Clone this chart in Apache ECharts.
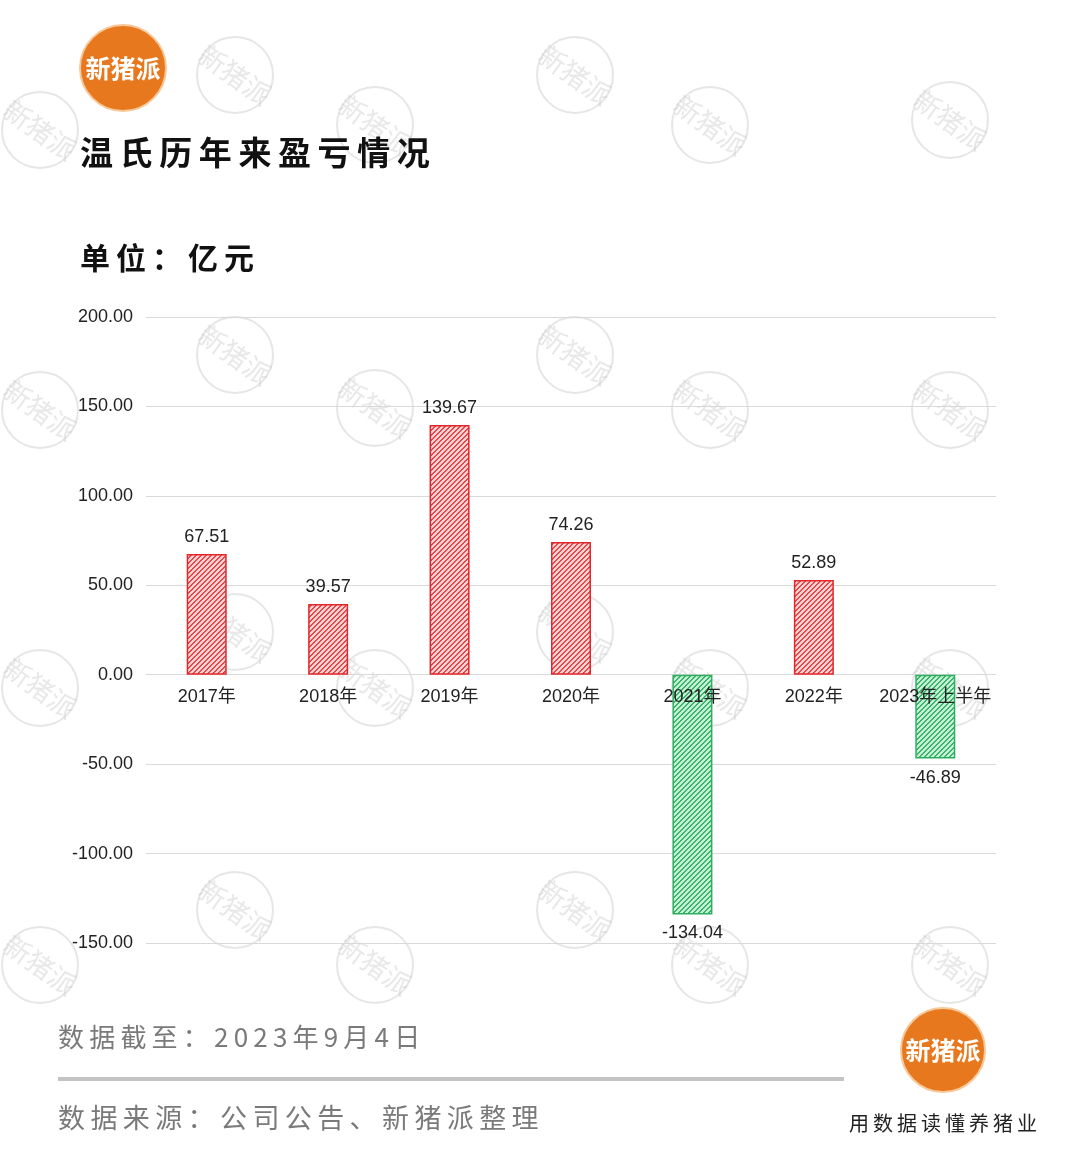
<!DOCTYPE html>
<html>
<head>
<meta charset="utf-8">
<script src="https://cdn.jsdelivr.net/npm/echarts@6/dist/echarts.min.js"></script>
<style>
html,body{margin:0;padding:0;background:#fff;}
#c{width:1080px;height:1171px;}
</style>
</head>
<body>
<div id="c"></div>
<script>
const categories = ['2017年','2018年','2019年','2020年','2021年','2022年','2023年上半年'];
const profitValues = [67.51, 39.57, 139.67, 74.26, -134.04, 52.89, -46.89];
const yTicks = {min: -150, max: 200, interval: 50};
const titleText = '温氏历年来盈亏情况';
const unitText = '单位：亿元';
const dateText = '数据截至：2023年9月4日';
const sourceText = '数据来源：公司公告、新猪派整理';
const sloganText = '用数据读懂养猪业';
const brandText = '新猪派';

function spaced(s){ return s.split('').join('\u2009'); }

function makePattern(bg, fg){
  const cv = document.createElement('canvas');
  const n = 10;
  cv.width = n; cv.height = n;
  const ctx = cv.getContext('2d');
  const img = ctx.createImageData(n, n);
  const p = (h)=>[parseInt(h.substr(1,2),16),parseInt(h.substr(3,2),16),parseInt(h.substr(5,2),16)];
  const b = p(bg), f = p(fg);
  for(let y=0;y<n;y++){
    for(let x=0;x<n;x++){
      const c = ((x+y)%5) < 2 ? f : b;
      const i=(y*n+x)*4;
      img.data[i]=c[0];img.data[i+1]=c[1];img.data[i+2]=c[2];img.data[i+3]=255;
    }
  }
  ctx.putImageData(img,0,0);
  return cv;
}
const redPat = makePattern('#fbd3d3', '#e8474b');
const greenPat = makePattern('#c4f0d4', '#3cb46e');

const chart = echarts.init(document.getElementById('c'), null, {renderer:'canvas'});

const wmPos = [
  [235,75],[575,75],[40,130],[375,125],[710,125],[950,120],
  [235,355],[575,355],[40,410],[375,408],[710,410],[950,410],
  [235,632],[575,632],[40,688],[375,688],[710,688],[950,688],
  [235,910],[575,910],[40,965],[375,965],[710,965],[950,965]
];
const graphics = [];
wmPos.forEach(p=>{
  graphics.push({type:'group', x:p[0], y:p[1], z:100, silent:true, children:[
    {type:'circle', shape:{cx:0,cy:0,r:38}, style:{fill:'none', stroke:'rgba(205,205,205,0.5)', lineWidth:2}},
    {type:'text', rotation:-0.62, style:{text:brandText, x:0, y:0, align:'center', verticalAlign:'middle', font:'27px "Noto Sans CJK SC"', fill:'rgba(205,205,205,0.45)'}}
  ]});
});
function logo(cx, cy, r){
  return {type:'group', x:cx, y:cy, z:110, children:[
    {type:'circle', shape:{cx:0,cy:0,r:r}, style:{fill:'#e8781e', stroke:'#f6c89a', lineWidth:2}},
    {type:'text', style:{text:brandText, x:0, y:0, align:'center', verticalAlign:'middle', font:'bold 25px "Noto Sans CJK SC"', fill:'#fff'}}
  ]};
}
graphics.push(logo(123,68,43));
graphics.push(logo(943,1050,42));
graphics.push({type:'text', z:120, style:{text:spaced(titleText), x:80, y:152, verticalAlign:'middle', font:'bold 33px "Noto Sans CJK SC"', fill:'#111'}});
graphics.push({type:'text', z:120, style:{text:spaced(unitText), x:80, y:258, verticalAlign:'middle', font:'bold 30px "Noto Sans CJK SC"', fill:'#111'}});
graphics.push({type:'text', z:120, style:{text:spaced(dateText), x:58, y:1037, verticalAlign:'middle', font:'26px "Noto Sans CJK SC"', fill:'#7a7a7a'}});
graphics.push({type:'rect', z:120, shape:{x:58,y:1077,width:786,height:4}, style:{fill:'#c4c4c4'}});
graphics.push({type:'text', z:120, style:{text:spaced(sourceText), x:58, y:1118, verticalAlign:'middle', font:'27px "Noto Sans CJK SC"', fill:'#7a7a7a'}});
graphics.push({type:'text', z:120, style:{text:spaced(sloganText), x:943, y:1123, align:'center', verticalAlign:'middle', font:'20px "Noto Sans CJK SC"', fill:'#222'}});

const barData = profitValues.map(v=>({
  value: v,
  itemStyle: v >= 0
    ? {color:{image: redPat, repeat:'repeat'}, borderColor:'#e0282c', borderWidth:1.5}
    : {color:{image: greenPat, repeat:'repeat'}, borderColor:'#2fae62', borderWidth:1.5},
  label: {position: v >= 0 ? 'top' : 'bottom', distance: v >= 0 ? 8 : 10}
}));
// zero-height carrier bars that place the category names right under the zero line
const zeroLine = categories.map(()=>0);

chart.setOption({
  backgroundColor:'#fff',
  animation:false,
  grid:{left:146, right:84, top:317, bottom:228, containLabel:false},
  xAxis:{
    type:'category', data:categories,
    axisLine:{show:true, onZero:true, lineStyle:{color:'#d9d9d9', width:1}},
    axisTick:{show:false},
    axisLabel:{show:false}
  },
  yAxis:{
    type:'value', min:yTicks.min, max:yTicks.max, interval:yTicks.interval,
    axisLine:{show:false}, axisTick:{show:false},
    splitLine:{lineStyle:{color:'#d9d9d9', width:1}},
    axisLabel:{color:'#222', fontSize:18, margin:13, fontFamily:'Arial, "Liberation Sans"', formatter:(v)=>v.toFixed(2)}
  },
  series:[{
    type:'bar', data:barData, barWidth:40, z:2,
    label:{show:true, color:'#222', fontSize:18, fontFamily:'Arial, "Liberation Sans"', formatter:(p)=>p.value.toFixed(2)}
  },{
    type:'bar', data:zeroLine, barWidth:40, barGap:'-100%', z:3, silent:true,
    itemStyle:{color:'rgba(0,0,0,0)', borderWidth:0},
    label:{show:true, position:'bottom', distance:13, color:'#222', fontSize:18, fontFamily:'Arial, "Liberation Sans", "Noto Sans CJK SC"', formatter:(p)=>p.name}
  }],
  graphic: graphics
});
</script>
</body>
</html>
